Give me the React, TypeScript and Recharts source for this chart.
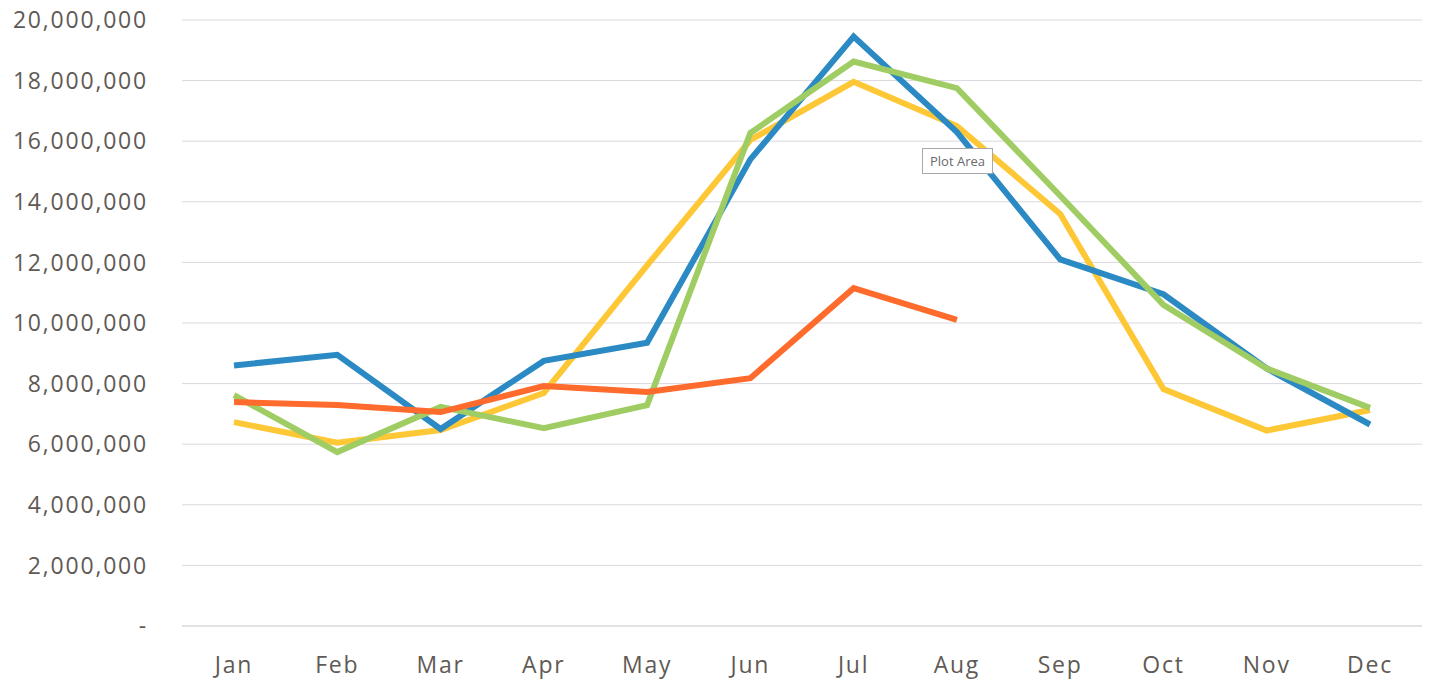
import { LineChart, Line, XAxis, YAxis, CartesianGrid } from 'recharts';

const months = ['Jan', 'Feb', 'Mar', 'Apr', 'May', 'Jun', 'Jul', 'Aug', 'Sep', 'Oct', 'Nov', 'Dec'];

const blueSeries = [8600000, 8950000, 6500000, 8750000, 9350000, 15400000, 19450000, 16300000, 12100000, 10950000, 8500000, 6650000];
const yellowSeries = [6730000, 6050000, 6470000, 7690000, 11900000, 16040000, 17960000, 16500000, 13600000, 7820000, 6450000, 7130000];
const greenSeries = [7620000, 5740000, 7230000, 6530000, 7290000, 16270000, 18630000, 17750000, 14200000, 10600000, 8500000, 7200000];
const orangeSeries = [7390000, 7290000, 7060000, 7920000, 7720000, 8180000, 11150000, 10100000, null, null, null, null];

const yTicks = [0, 2000000, 4000000, 6000000, 8000000, 10000000, 12000000, 14000000, 16000000, 18000000, 20000000];

const chartData = months.map((m, i) => ({
    month: m,
    blue: blueSeries[i],
    yellow: yellowSeries[i],
    green: greenSeries[i],
    orange: orangeSeries[i]
}));

const tickStyle = { fill: '#5f5a55', fontSize: 23, fontFamily: 'Open Sans', letterSpacing: 1.8 };
const gridColor = '#d9d8de';

export default function App() {
    return (
        <div style={{ position: 'absolute', left: 0, top: 0, width: 1432, height: 683, background: '#fff' }}>
            <LineChart width={1432} height={683} data={chartData} margin={{ top: 20, right: 10, left: 0, bottom: 0 }}>
                <CartesianGrid vertical={false} stroke={gridColor} />
                <XAxis
                    dataKey="month"
                    height={57}
                    padding={{ left: 52, right: 52 }}
                    axisLine={{ stroke: gridColor }}
                    tickLine={false}
                    tickSize={0}
                    tickMargin={31}
                    tick={tickStyle}
                />
                <YAxis
                    width={182}
                    domain={[0, 20000000]}
                    ticks={yTicks}
                    axisLine={false}
                    tickLine={false}
                    tickSize={0}
                    tickMargin={34}
                    tick={tickStyle}
                    tickFormatter={(v: number) => (v === 0 ? '-' : v.toLocaleString('en-US'))}
                />
                <Line type="linear" dataKey="yellow" stroke="#fdc735" strokeWidth={6} dot={false} isAnimationActive={false} />
                <Line type="linear" dataKey="blue" stroke="#2b8ac3" strokeWidth={6} dot={false} isAnimationActive={false} />
                <Line type="linear" dataKey="green" stroke="#a0cd63" strokeWidth={6} dot={false} isAnimationActive={false} />
                <Line type="linear" dataKey="orange" stroke="#fe6b2c" strokeWidth={6} dot={false} isAnimationActive={false} />
            </LineChart>
            <div
                style={{
                    position: 'absolute',
                    left: 922,
                    top: 148,
                    padding: '4px 7px',
                    border: '1px solid #a8a8a8',
                    background: '#fff',
                    color: '#6a6a6a',
                    fontFamily: 'Open Sans',
                    fontSize: 13,
                    lineHeight: '16px'
                }}
            >
                Plot Area
            </div>
        </div>
    );
}
